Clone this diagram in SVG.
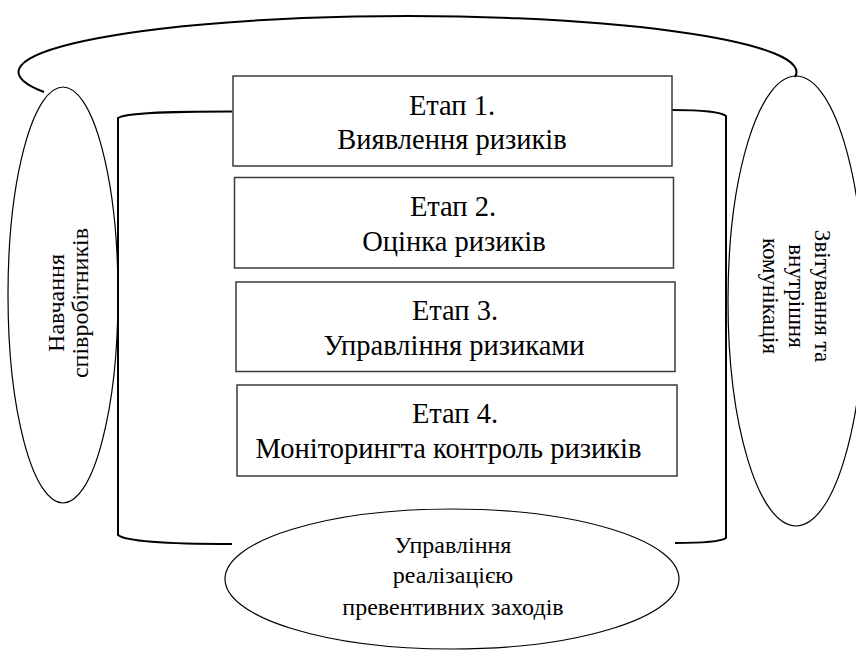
<svg xmlns="http://www.w3.org/2000/svg" width="856" height="652" viewBox="0 0 856 652">
<style>
.box{fill:#fff;stroke:#3a3a3a;stroke-width:1.5}
.ell{fill:none;stroke:#000;stroke-width:1.2}
.brk{fill:none;stroke:#000;stroke-width:2}
.t{font-family:"Liberation Serif","Times New Roman",serif;font-size:28.5px;fill:#000;text-anchor:middle}
.s{font-family:"Liberation Serif","Times New Roman",serif;font-size:24px;fill:#000;text-anchor:middle}
.r{font-size:23px}
</style>
<rect width="856" height="652" fill="#fff"/>
<g id="connectors">
<path class="brk" d="M 44 92 A 389 56 0 1 1 795 77"/>
<path class="brk" d="M 232 111.5 C 160 111.5 125 113 118 118 L 118 535 C 125 541 160 544 232 544"/>
<path class="brk" d="M 672 110 C 700 110 720 111 726 116 L 726 538 C 720 542 700 543 675 543"/>
</g>
<g id="left-ellipse">
<ellipse class="ell" cx="63" cy="295" rx="55" ry="208"/>
<text class="s" transform="translate(64,303) rotate(-90)"><tspan x="0" y="0">Навчання</tspan><tspan x="0" y="24">співробітників</tspan></text>
</g>
<g id="right-ellipse">
<ellipse class="ell" cx="796" cy="301" rx="68" ry="225"/>
<text class="s r" transform="translate(815,296) rotate(90)"><tspan x="0" y="0">Звітування та</tspan><tspan x="0" y="26">внутрішня</tspan><tspan x="0" y="52">комунікація</tspan></text>
</g>
<g id="stage1">
<rect class="box" x="233" y="76" width="439" height="90"/>
<text class="t" x="452" y="115">Етап 1.</text>
<text class="t" x="452" y="149">Виявлення ризиків</text>
</g>
<g id="stage2">
<rect class="box" x="234.5" y="177.5" width="439" height="90.5"/>
<text class="t" x="453" y="216">Етап 2.</text>
<text class="t" x="454" y="251">Оцінка ризиків</text>
</g>
<g id="stage3">
<rect class="box" x="236" y="282" width="439" height="89.5"/>
<text class="t" x="455" y="320">Етап 3.</text>
<text class="t" x="454" y="355">Управління ризиками</text>
</g>
<g id="stage4">
<rect class="box" x="237" y="385" width="440" height="91"/>
<text class="t" x="455" y="423">Етап 4.</text>
<text class="t" x="448.5" y="458">Моніторингта контроль ризиків</text>
</g>
<g id="bottom-ellipse">
<ellipse class="ell" cx="452" cy="579" rx="227" ry="70"/>
<text class="s" x="453" y="553">Управління</text>
<text class="s" x="453" y="583">реалізацією</text>
<text class="s" x="453" y="615">превентивних заходів</text>
</g>
</svg>
